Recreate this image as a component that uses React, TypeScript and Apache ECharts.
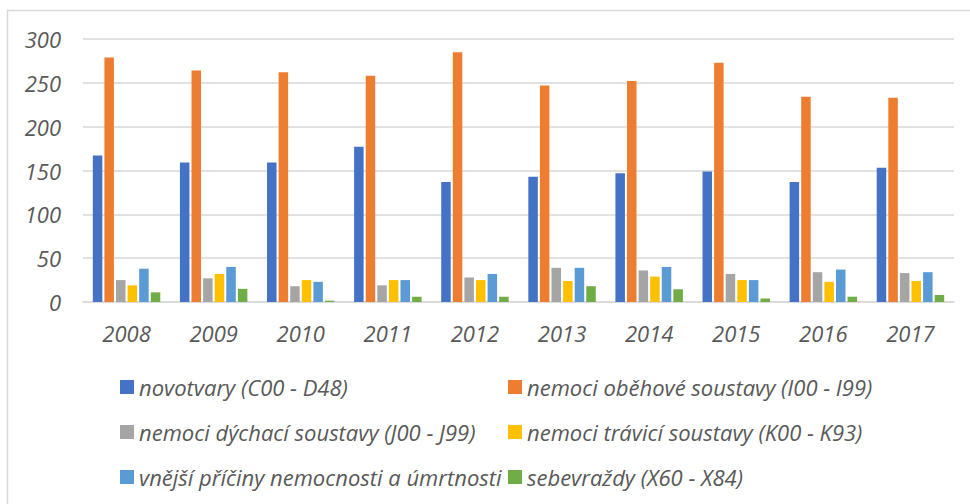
import React, { useEffect, useRef } from "react";
import * as echarts from "echarts";

const years = ["2008", "2009", "2010", "2011", "2012", "2013", "2014", "2015", "2016", "2017"];
const seriesNames = [
  "novotvary (C00 - D48)",
  "nemoci oběhové soustavy (I00 - I99)",
  "nemoci dýchací soustavy (J00 - J99)",
  "nemoci trávicí soustavy (K00 - K93)",
  "vnější příčiny nemocnosti a úmrtnosti",
  "sebevraždy (X60 - X84)",
];
const novotvary = [167, 159, 159, 177, 137, 143, 147, 149, 137, 153];
const obehove = [279, 264, 262, 258, 285, 247, 252, 273, 234, 233];
const dychaci = [25, 27, 18, 19, 28, 39, 36, 32, 34, 33];
const travici = [19, 32, 25, 25, 25, 24, 29, 25, 23, 24];
const vnejsi = [38, 40, 23, 25, 32, 39, 40, 25, 37, 34];
const sebevrazdy = [11, 15, 1.5, 6, 6, 18, 14.5, 4, 6, 8];
const colors = ["#4472C4", "#ED7D31", "#A5A5A5", "#FFC000", "#5B9BD5", "#70AD47"];

const FONT = "'Open Sans', 'DejaVu Sans', sans-serif";

export default function App() {
  const ref = useRef<HTMLDivElement>(null);
  useEffect(() => {
    const chart = echarts.init(ref.current!, undefined, { renderer: "svg" });
    const allData = [novotvary, obehove, dychaci, travici, vnejsi, sebevrazdy];
    const legendText = {
      fontSize: 22,
      fontStyle: "italic" as const,
      color: "#595959",
      fontFamily: FONT,
      lineHeight: 22,
    };
    const legendCommon = {
      orient: "vertical" as const,
      top: 371,
      itemWidth: 14,
      itemHeight: 14,
      itemGap: 23,
      icon: "rect",
      textStyle: legendText,
    };
    chart.setOption({
      animation: false,
      backgroundColor: "#ffffff",
      graphic: [
        {
          type: "rect",
          shape: { x: 7.5, y: 10.5, width: 1000, height: 600 },
          style: { fill: "none", stroke: "#d9d9d9", lineWidth: 1.5 },
          silent: true,
        },
      ],
      grid: { left: 83, right: 16, top: 39, bottom: 202 },
      legend: [
        { ...legendCommon, data: [seriesNames[0], seriesNames[2], seriesNames[4]], left: 115 },
        { ...legendCommon, data: [seriesNames[1], seriesNames[3], seriesNames[5]], left: 503 },
      ],
      xAxis: {
        type: "category",
        data: years,
        axisLine: { lineStyle: { color: "#d9d9d9", width: 1.5 } },
        axisTick: { show: false },
        axisLabel: {
          margin: 20,
          fontSize: 22,
          fontStyle: "italic",
          color: "#595959",
          fontFamily: FONT,
        },
      },
      yAxis: {
        type: "value",
        min: 0,
        max: 300,
        interval: 50,
        axisLine: { show: false },
        axisTick: { show: false },
        splitLine: { lineStyle: { color: "#d9d9d9", width: 1.5 } },
        axisLabel: {
          margin: 22,
          fontSize: 22,
          fontStyle: "italic",
          color: "#595959",
          fontFamily: FONT,
        },
      },
      series: allData.map((d, i) => ({
        name: seriesNames[i],
        type: "bar",
        data: d,
        barWidth: 9.5,
        barGap: "22%",
        itemStyle: { color: colors[i] },
      })),
    });
    return () => chart.dispose();
  }, []);
  return (
    <div
      ref={ref}
      style={{ position: "fixed", left: 0, top: 0, width: 970, height: 504 }}
    />
  );
}
